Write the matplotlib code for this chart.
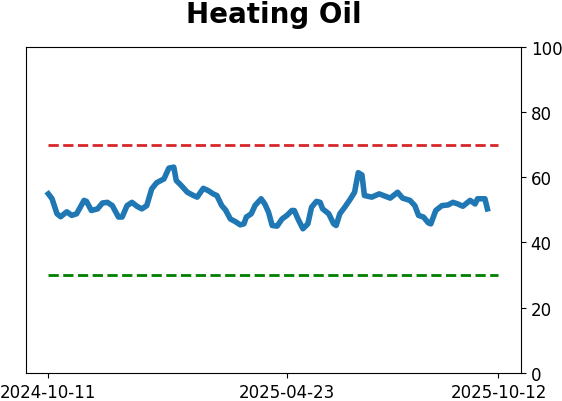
import numpy as np
import pandas as pd
import matplotlib
matplotlib.use("Agg")
import matplotlib.pyplot as plt

# days after 2024-10-11 and the indicator reading on that day
start = pd.Timestamp("2024-10-11")
day_offsets = [0, 3, 7, 10, 15, 19, 23, 29, 31, 35, 40, 44, 48, 52, 57, 60, 64, 68, 72, 76,
               80, 84, 88, 94, 98, 102, 104, 108, 113, 118, 121, 126, 130, 134, 137, 141, 144,
               148, 152, 156, 159, 161, 165, 168, 173, 176, 179, 182, 186, 190, 194, 198, 200,
               203, 207, 211, 214, 218, 221, 223, 228, 232, 234, 237, 241, 245, 249, 252, 255,
               257, 263, 269, 278, 284, 288, 294, 298, 301, 305, 309, 311, 315, 320, 325, 329,
               333, 337, 343, 347, 349, 355, 357]
values = [54.9, 53.4, 48.8, 47.9, 49.4, 48.3, 48.8, 52.9, 52.6, 49.8, 50.3, 52.1, 52.3, 51.3,
          47.8, 47.8, 51.3, 52.3, 51.1, 50.3, 51.3, 56.4, 58.3, 59.5, 62.8, 63.1, 59.0, 57.5,
          55.4, 54.4, 53.9, 56.6, 55.9, 54.9, 54.4, 51.3, 50.0, 47.2, 46.4, 45.4, 45.7, 47.8,
          48.8, 51.3, 53.4, 51.8, 49.3, 45.2, 45.0, 47.2, 48.3, 49.8, 49.8, 47.2, 44.2, 45.7,
          50.8, 52.6, 52.3, 50.3, 48.8, 45.7, 45.2, 48.8, 50.8, 53.0, 55.4, 61.4, 60.7, 54.4,
          53.9, 54.9, 53.6, 55.4, 53.6, 52.9, 51.3, 48.3, 47.8, 46.0, 45.7, 49.8, 51.3, 51.5,
          52.3, 51.8, 51.1, 52.9, 51.8, 53.4, 53.4, 50.3]
upper_level = 70
lower_level = 30
tick_dates = ["2024-10-11", "2025-04-23", "2025-10-12"]

dates = start + pd.to_timedelta(day_offsets, unit="D")
ticks = pd.to_datetime(tick_dates)

fig = plt.figure(figsize=(5.62, 4.02), dpi=100)
ax = fig.add_axes([0.046, 0.070, 0.881, 0.811])

ax.plot(dates, values, color="#1f77b4", lw=4)
ax.plot([ticks[0], ticks[-1]], [upper_level, upper_level], "--", color="#d62728", lw=2)
ax.plot([ticks[0], ticks[-1]], [lower_level, lower_level], "--", color="green", lw=2)

ax.set_ylim(0, 100)
ax.yaxis.tick_right()
ax.set_yticks([0, 20, 40, 60, 80, 100])
ax.set_xticks(ticks)
ax.set_xticklabels(tick_dates)
ax.tick_params(labelsize=12)
ax.set_title("Heating Oil", fontsize=20, fontweight="bold", pad=18)

fig.savefig("out.png", dpi=100)
